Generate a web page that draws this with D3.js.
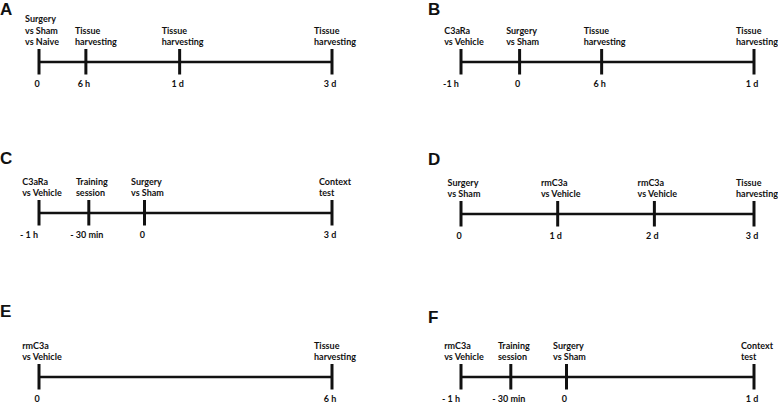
<!DOCTYPE html>
<html>
<head>
<meta charset="utf-8">
<script src="https://cdn.jsdelivr.net/npm/d3@7"></script>
<style>
  html, body { margin: 0; padding: 0; background: #fff; }
  svg { display: block; }
</style>
</head>
<body>
<svg id="chart" width="778" height="404"></svg>
<script>
// ---------------- data ----------------
const panels = ["A", "B", "C", "D", "E", "F"];

// time-point labels for each panel (tick labels)
const timesA = ["0", "6 h", "1 d", "3 d"];
const timesB = ["-1 h", "0", "6 h", "1 d"];
const timesC = ["- 1 h", "- 30 min", "0", "3 d"];
const timesD = ["0", "1 d", "2 d", "3 d"];
const timesE = ["0", "6 h"];
const timesF = ["- 1 h", "- 30 min", "0", "1 d"];

// schematic position of each time point along its timeline (0-100)
const posA = [0, 16, 48, 100];
const posB = [0, 20, 48, 100];
const posC = [0, 17, 36, 100];
const posD = [0, 33, 66, 100];
const posE = [0, 100];
const posF = [0, 17, 36, 100];

// event labels (lines of text above each tick)
const eventsA = [["Surgery", "vs Sham", "vs Naive"], ["Tissue", "harvesting"], ["Tissue", "harvesting"], ["Tissue", "harvesting"]];
const eventsB = [["C3aRa", "vs Vehicle"], ["Surgery", "vs Sham"], ["Tissue", "harvesting"], ["Tissue", "harvesting"]];
const eventsC = [["C3aRa", "vs Vehicle"], ["Training", "session"], ["Surgery", "vs Sham"], ["Context", "test"]];
const eventsD = [["Surgery", "vs Sham"], ["rmC3a", "vs Vehicle"], ["rmC3a", "vs Vehicle"], ["Tissue", "harvesting"]];
const eventsE = [["rmC3a", "vs Vehicle"], ["Tissue", "harvesting"]];
const eventsF = [["rmC3a", "vs Vehicle"], ["Training", "session"], ["Surgery", "vs Sham"], ["Context", "test"]];

const timesAll = { A: timesA, B: timesB, C: timesC, D: timesD, E: timesE, F: timesF };
const posAll = { A: posA, B: posB, C: posC, D: posD, E: posE, F: posF };
const eventsAll = { A: eventsA, B: eventsB, C: eventsC, D: eventsD, E: eventsE, F: eventsF };

// ---------------- layout ----------------
const layout = {
  A: { col: 0, lineY: 62,  letterY: 15 },
  B: { col: 1, lineY: 62,  letterY: 15 },
  C: { col: 0, lineY: 213, letterY: 164 },
  D: { col: 1, lineY: 214, letterY: 165 },
  E: { col: 0, lineY: 377, letterY: 317 },
  F: { col: 1, lineY: 377, letterY: 323 }
};
const colRange = [[39, 332], [461, 754]];
const letterX = [0, 428];
const labelNudge = { "A1": 7 };           // small manual offsets of event-label blocks
const tickLabelFont = "Lato, 'Open Sans', sans-serif";

const svg = d3.select("#chart");

panels.forEach(p => {
  const L = layout[p];
  const x = d3.scaleLinear().domain([0, 100]).range(colRange[L.col]);
  const g = svg.append("g");

  // panel letter
  g.append("text")
    .attr("x", letterX[L.col])
    .attr("y", L.letterY)
    .attr("font-family", "'Liberation Sans', Arial, sans-serif")
    .attr("font-weight", "bold")
    .attr("font-size", 17)
    .attr("fill", "#111")
    .text(p);

  const pos = posAll[p];

  // main timeline
  g.append("line")
    .attr("x1", x(d3.min(pos))).attr("x2", x(d3.max(pos)))
    .attr("y1", L.lineY).attr("y2", L.lineY)
    .attr("stroke", "#111").attr("stroke-width", 2.6);

  // ticks
  g.selectAll("line.tick").data(pos).join("line")
    .attr("class", "tick")
    .attr("x1", d => x(d)).attr("x2", d => x(d))
    .attr("y1", L.lineY - 13).attr("y2", L.lineY + 12.5)
    .attr("stroke", "#111").attr("stroke-width", 3);

  // tick labels
  g.selectAll("text.tl").data(timesAll[p]).join("text")
    .attr("class", "tl")
    .attr("x", (d, i) => x(pos[i]) - (/^-1/.test(d) || /^- 1 h/.test(d) ? 10 : 2))
    .attr("y", L.lineY + 25)
    .attr("text-anchor", "middle")
    .attr("font-family", tickLabelFont)
    .attr("font-weight", "bold")
    .attr("font-size", 9)
    .attr("fill", "#111")
    .text(d => d);

  // event labels
  eventsAll[p].forEach((lines, i) => {
    const t = g.append("text")
      .attr("font-family", tickLabelFont)
      .attr("font-weight", "bold")
      .attr("font-size", 9)
      .attr("fill", "#111");
    const n = lines.length;
    lines.forEach((ln, j) => {
      t.append("tspan")
        .attr("y", L.lineY - 17 - (n - 1 - j) * 11.5)
        .text(ln);
    });
    let w = 0;
    t.selectAll("tspan").each(function () { w = Math.max(w, this.getComputedTextLength()); });
    const x0 = x(pos[i]) - w / 2 + 3 + (labelNudge[p + i] || 0);
    t.selectAll("tspan").attr("x", x0);
  });
});
</script>
</body>
</html>
